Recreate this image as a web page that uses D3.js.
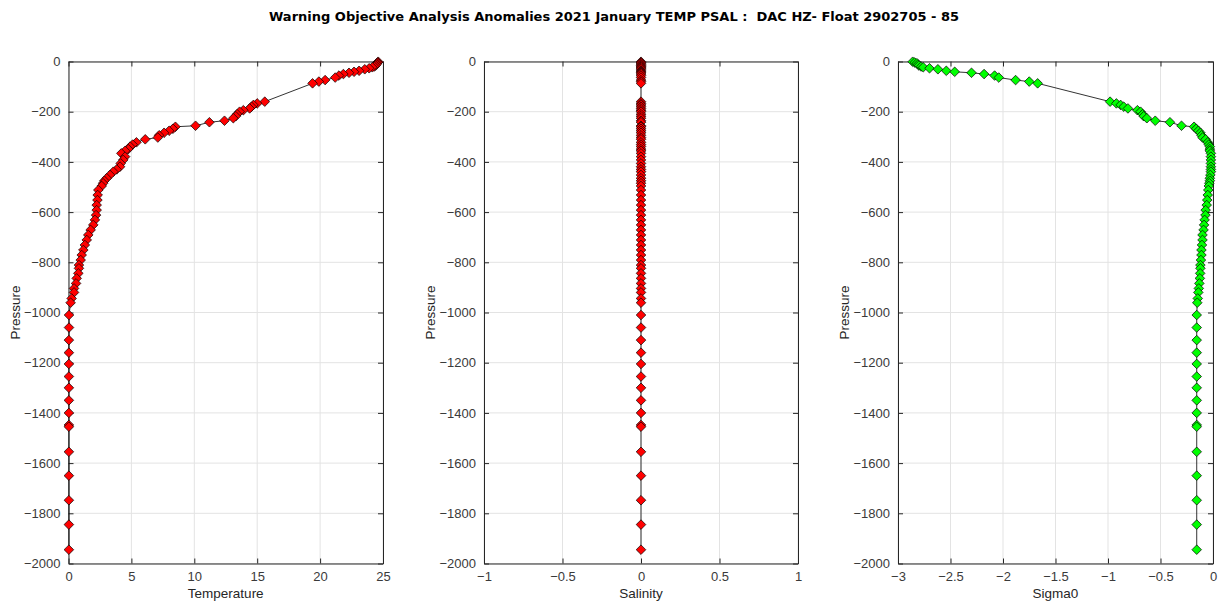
<!DOCTYPE html>
<html>
<head>
<meta charset="utf-8">
<script src="https://cdn.jsdelivr.net/npm/d3@7"></script>
<style>
  html, body { margin: 0; padding: 0; background: #fff; }
  svg { display: block; }
</style>
</head>
<body>
<svg id="chart" width="1223" height="607"></svg>
<script>
// Profile levels (dbar) and the anomaly of each variable at those levels
const pressure = [
  1, 4, 7, 12, 16, 20, 23, 27, 31, 37, 41, 45, 50, 56, 64, 74, 80, 87,
  160, 167, 173, 180, 187, 194, 200, 210, 218, 226,
  236, 242, 256, 260, 268, 276, 284, 294, 303, 310,
  322, 331, 339, 349, 356, 366, 379, 392, 406, 419,
  430, 439, 452, 465, 475, 485, 496, 512, 532, 552,
  572, 592, 612, 631, 651, 671, 691, 711, 731, 751,
  771, 791, 811, 824, 844, 864, 884, 904, 920, 944,
  961,
  1010, 1060, 1110, 1160, 1205, 1255, 1300, 1350, 1400, 1448, 1455, 1555, 1650, 1748, 1845, 1945
];

const temperature = [
  24.62, 24.58, 24.52, 24.48, 24.40, 24.30, 24.15, 23.90, 23.55, 23.10, 22.70, 22.30, 21.85, 21.50, 21.20, 20.40, 19.90, 19.40,
  15.6, 15.0, 14.7, 14.55, 14.4, 13.9, 13.6, 13.4, 13.3, 13.1,
  12.4, 11.2, 10.1, 8.5, 8.3, 8.0, 7.6, 7.2, 7.1, 6.1,
  5.4, 5.1, 4.9, 4.75, 4.5, 4.2, 4.5, 4.35, 4.15, 4.1,
  3.83, 3.56, 3.3, 3.04, 2.85, 2.75, 2.64, 2.37, 2.32, 2.3,
  2.24, 2.24, 2.19, 2.1, 1.97, 1.76, 1.57, 1.45, 1.3, 1.18,
  1.05, 0.97, 0.83, 0.83, 0.78, 0.65, 0.6, 0.44, 0.44, 0.25,
  0.17,
  0.04, 0.04, 0.03, 0.03, 0.03, 0.03, 0.03, 0.03, 0.03, 0.03, 0.03, 0.03, 0.03, 0.03, 0.03, 0.03
];

const salinity = pressure.map(() => 0);

const sigma0 = [
  -2.86, -2.84, -2.82, -2.81, -2.80, -2.78, -2.76, -2.70, -2.62, -2.54, -2.46, -2.30, -2.18, -2.08, -2.04, -1.88, -1.75, -1.67,
  -0.98, -0.92, -0.88, -0.85, -0.81, -0.72, -0.69, -0.67, -0.66, -0.63,
  -0.55, -0.41, -0.30, -0.18, -0.16, -0.14, -0.12, -0.11, -0.10, -0.07,
  -0.05, -0.04, -0.03, -0.03, -0.03, -0.02, -0.02, -0.02, -0.02, -0.02,
  -0.02, -0.02, -0.025, -0.03, -0.03, -0.035, -0.04, -0.045, -0.05, -0.055,
  -0.06, -0.07, -0.072, -0.08, -0.085, -0.09, -0.10, -0.10, -0.105, -0.11,
  -0.11, -0.115, -0.12, -0.12, -0.122, -0.125, -0.13, -0.135, -0.14, -0.145,
  -0.15,
  -0.155, -0.155, -0.155, -0.155, -0.155, -0.155, -0.155, -0.155, -0.155, -0.155, -0.155, -0.155, -0.155, -0.155, -0.155, -0.155
];

const pressureTicks = [0, -200, -400, -600, -800, -1000, -1200, -1400, -1600, -1800, -2000];
const tempTicks = [0, 5, 10, 15, 20, 25];
const salTicks = [-1, -0.5, 0, 0.5, 1];
const sigmaTicks = [-3, -2.5, -2, -1.5, -1, -0.5, 0];

const titleText = "Warning Objective Analysis Anomalies 2021 January TEMP PSAL :  DAC HZ- Float 2902705 - 85";

const panels = [
  { label: "Temperature", values: temperature, domain: [0, 25], ticks: tempTicks, fill: "#ff0000", left: 68.5, right: 383 },
  { label: "Salinity", values: salinity, domain: [-1, 1], ticks: salTicks, fill: "#ff0000", left: 484, right: 798 },
  { label: "Sigma0", values: sigma0, domain: [-3, 0], ticks: sigmaTicks, fill: "#00ff00", left: 898, right: 1213 }
];

const plotTop = 61.5, plotBottom = 563.5;
const axisColor = "#262626";
const gridColor = "#e3e3e3";
const labelFont = "'Liberation Sans', Arial, sans-serif";
const fmt = v => (v < 0 ? "\u2212" : "") + String(Math.abs(v));

const svg = d3.select("#chart");

svg.append("text")
  .attr("x", 614).attr("y", 20.5)
  .attr("text-anchor", "middle")
  .style("white-space", "pre")
  .style("font-family", "'DejaVu Sans', sans-serif")
  .style("font-size", "13px").style("font-weight", "bold")
  .attr("fill", "#000")
  .text(titleText);

const y = d3.scaleLinear().domain([-2000, 0]).range([plotBottom, plotTop]);
const diamond = r => `M0,${-r}L${r},0L0,${r}L${-r},0Z`;

panels.forEach(pn => {
  const x = d3.scaleLinear().domain(pn.domain).range([pn.left, pn.right]);
  const g = svg.append("g");

  // grid
  g.append("g").selectAll("line").data(pn.ticks).join("line")
    .attr("x1", d => x(d)).attr("x2", d => x(d)).attr("y1", plotTop).attr("y2", plotBottom)
    .attr("stroke", gridColor).attr("stroke-width", 1);
  g.append("g").selectAll("line").data(pressureTicks).join("line")
    .attr("x1", pn.left).attr("x2", pn.right).attr("y1", d => y(d)).attr("y2", d => y(d))
    .attr("stroke", gridColor).attr("stroke-width", 1);

  // axes (ticks pointing inward on all four sides)
  const tl = 5;
  const bottomAxis = g.append("g").attr("transform", `translate(0,${plotBottom})`)
    .call(d3.axisBottom(x).tickValues(pn.ticks).tickFormat(fmt).tickSizeInner(-tl).tickSizeOuter(0).tickPadding(8));
  const topAxis = g.append("g").attr("transform", `translate(0,${plotTop})`)
    .call(d3.axisTop(x).tickValues(pn.ticks).tickFormat("").tickSizeInner(-tl).tickSizeOuter(0));
  const leftAxis = g.append("g").attr("transform", `translate(${pn.left},0)`)
    .call(d3.axisLeft(y).tickValues(pressureTicks).tickFormat(fmt).tickSizeInner(-tl).tickSizeOuter(0).tickPadding(8));
  const rightAxis = g.append("g").attr("transform", `translate(${pn.right},0)`)
    .call(d3.axisRight(y).tickValues(pressureTicks).tickFormat("").tickSizeInner(-tl).tickSizeOuter(0));
  [bottomAxis, topAxis, leftAxis, rightAxis].forEach(a => {
    a.select(".domain").attr("stroke", axisColor).attr("stroke-width", 1);
    a.selectAll(".tick line").attr("stroke", axisColor);
    a.selectAll(".tick text").attr("fill", "#3a3a3a")
      .attr("font-size", 13).attr("font-family", labelFont);
  });

  // axis titles
  g.append("text")
    .attr("x", (pn.left + pn.right) / 2).attr("y", 598)
    .attr("text-anchor", "middle").attr("font-size", 13.5).attr("font-family", labelFont)
    .attr("fill", "#262626")
    .text(pn.label);
  g.append("text")
    .attr("transform", `translate(${pn.left - 49},${(plotTop + plotBottom) / 2}) rotate(-90)`)
    .attr("text-anchor", "middle").attr("font-size", 13.5).attr("font-family", labelFont)
    .attr("fill", "#262626")
    .text("Pressure");

  const pts = pressure.map((p, i) => ({ p: -p, v: pn.values[i] }));

  g.append("path").datum(pts)
    .attr("fill", "none").attr("stroke", "#000").attr("stroke-width", 0.8)
    .attr("d", d3.line().x(d => x(d.v)).y(d => y(d.p)));

  g.append("g").selectAll("path").data(pts).join("path")
    .attr("transform", d => `translate(${x(d.v)},${y(d.p)})`)
    .attr("d", diamond(4.8))
    .attr("fill", pn.fill).attr("stroke", "#000").attr("stroke-width", 0.7);
});
</script>
</body>
</html>
